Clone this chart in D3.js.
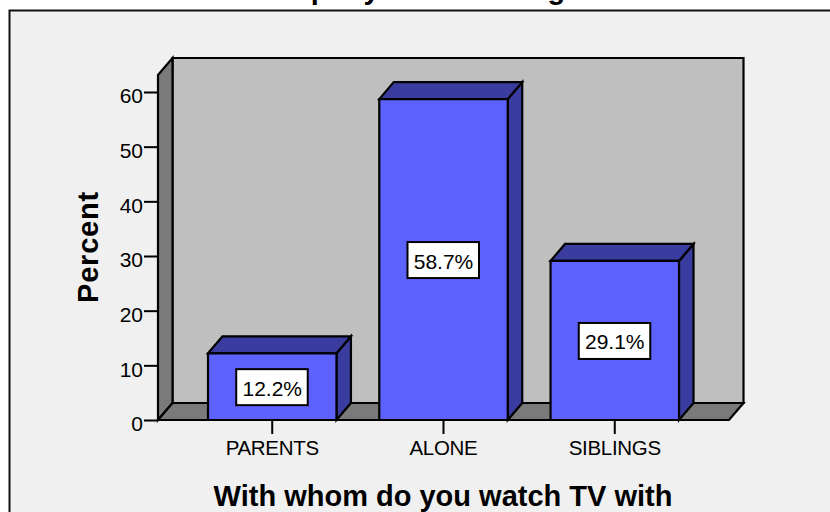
<!DOCTYPE html>
<html><head><meta charset="utf-8">
<script src="https://cdn.jsdelivr.net/npm/d3@7/dist/d3.min.js"></script>
<style>html,body{margin:0;padding:0;background:#fff;overflow:hidden}svg{display:block}
text{font-family:"Liberation Sans",Arial,sans-serif;fill:#000}</style></head><body>
<div id="c"></div>
<script>
const categories=["PARENTS","ALONE","SIBLINGS"];
const percents=[12.2,58.7,29.1];
const yTicks=[0,10,20,30,40,50,60];
const yLabel="Percent";
const xLabel="With whom do you watch TV with";
const titleText="Company for watching";

const W=830,H=512;
const svg=d3.select("#c").append("svg").attr("width",W).attr("height",H);
const x0=158,x1=729,yB=420,yT=75,dx=14.5,dy=-17;
const y=d3.scaleLinear().domain([0,60]).range([yB,92]);
const x=d3.scaleBand().domain(categories).range([208,679]).paddingInner(0.25).paddingOuter(0);
const sw=2.2;
const poly=(pts,fill)=>svg.append("polygon").attr("points",pts.map(p=>p.join(",")).join(" "))
  .attr("fill",fill).attr("stroke","#000").attr("stroke-width",sw).attr("stroke-linejoin","miter");

svg.append("rect").attr("x",9.5).attr("y",10.5).attr("width",W+20).attr("height",H+20)
  .attr("fill","#f0f0f0").attr("stroke","#111").attr("stroke-width",2);
svg.append("text").attr("x",245).attr("y",-1).attr("font-size",29).attr("font-weight","bold").attr("letter-spacing",0.4).text(titleText);

// walls and floor
poly([[x0+dx,yT+dy],[x1+dx,yT+dy],[x1+dx,yB+dy],[x0+dx,yB+dy]],"#bfbfbf");
poly([[x0,yT],[x0+dx,yT+dy],[x0+dx,yB+dy],[x0,yB]],"#7a7a7a");
poly([[x0,yB],[x0+dx,yB+dy],[x1+dx,yB+dy],[x1,yB]],"#7a7a7a");

// y axis
const gy=svg.append("g").attr("transform",`translate(${x0},0)`)
  .call(d3.axisLeft(y).tickValues(yTicks).tickSize(14).tickPadding(1).tickSizeOuter(0));
gy.select(".domain").remove();
gy.selectAll("line").attr("stroke","#000").attr("stroke-width",2);
gy.selectAll("text").attr("font-size",21).attr("font-family",'"Liberation Sans",Arial,sans-serif').attr("dy","0.52em");

// x axis
const gx=svg.append("g").attr("transform",`translate(0,${yB})`)
  .call(d3.axisBottom(x).tickSize(14).tickPadding(6).tickSizeOuter(0));
gx.select(".domain").remove();
gx.selectAll("line").attr("stroke","#000").attr("stroke-width",2);
gx.selectAll("text").attr("font-size",20.5).attr("font-family",'"Liberation Sans",Arial,sans-serif').attr("letter-spacing",-0.3);

// bars
categories.forEach((c,i)=>{
  const l=x(c),r=l+x.bandwidth(),t=y(percents[i]);
  poly([[r,t],[r+dx,t+dy],[r+dx,yB+dy],[r,yB]],"#3a3d9f");
  poly([[l,t],[l+dx,t+dy],[r+dx,t+dy],[r,t]],"#3a3d9f");
  poly([[l,t],[r,t],[r,yB],[l,yB]],"#5d62ff");
  const cx=(l+r)/2,cy=(t+yB)/2;
  svg.append("rect").attr("x",cx-36).attr("y",cy-17.5).attr("width",71.5).attr("height",36)
    .attr("fill","#fff").attr("stroke","#000").attr("stroke-width",2);
  svg.append("text").attr("x",cx).attr("y",cy+9).attr("text-anchor","middle")
    .attr("font-size",21).text(d3.format(".1f")(percents[i])+"%");
});

svg.append("text").attr("transform","translate(98,247) rotate(-90)").attr("text-anchor","middle")
  .attr("font-size",29).attr("font-weight","bold").attr("letter-spacing",0.8).text(yLabel);
svg.append("text").attr("x",443).attr("y",506).attr("text-anchor","middle")
  .attr("font-size",29).attr("font-weight","bold").text(xLabel);
</script></body></html>
